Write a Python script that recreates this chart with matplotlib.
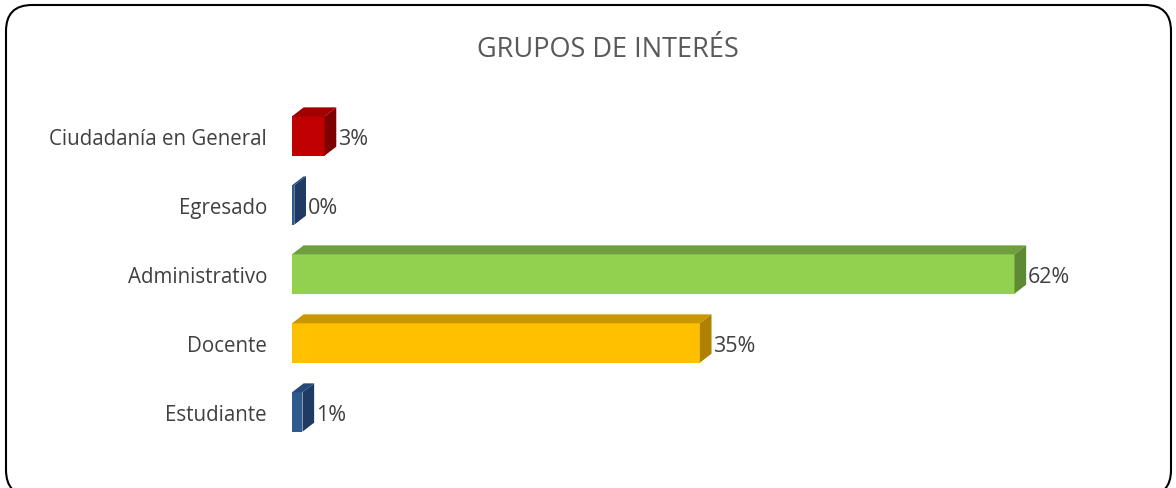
import matplotlib.pyplot as plt
from matplotlib.patches import Polygon, FancyBboxPatch

# 数据
categorias = ['Estudiante', 'Docente', 'Administrativo', 'Egresado', 'Ciudadanía en General']
valores = [0.9, 35, 62, 0.2, 2.8]
etiquetas = ['1%', '35%', '62%', '0%', '3%']

# 颜色: 正面, 顶面, 侧面
frente = ['#2F5A8E', '#FFC000', '#92D050', '#2F5A8E', '#C00000']
arriba = ['#27497A', '#C99700', '#6E9E3E', '#27497A', '#A00000']
lado = ['#1F3A63', '#AE8200', '#5E8A33', '#1F3A63', '#7F0000']

fig = plt.figure(figsize=(11.76, 4.89), dpi=100)
ax = fig.add_axes([292 / 1176, 0.0849, 874 / 1176, 0.7055])

h = 0.57   # 条高
dx = 1.0   # 深度 x
dy = 0.13  # 深度 y

for i, v in enumerate(valores):
    ax.barh(i, v, height=h, color=frente[i], edgecolor='none', zorder=2)
    top = i + h / 2
    bot = i - h / 2
    ax.add_patch(Polygon([(0, top), (v, top), (v + dx, top + dy), (dx, top + dy)],
                         closed=True, color=arriba[i], lw=0, zorder=3))
    ax.add_patch(Polygon([(v, bot), (v + dx, bot + dy), (v + dx, top + dy), (v, top)],
                         closed=True, color=lado[i], lw=0, zorder=3))
    ax.text(v + dx + 0.15, i - 0.04, etiquetas[i], va='center', ha='left',
            fontsize=15.5, color='#404040', family='Open Sans')

ax.set_xlim(0, 75)
ax.set_ylim(-0.5, 4.5)
ax.set_yticks(range(len(categorias)))
ax.set_yticklabels(categorias, fontsize=14.8, color='#404040', family='Open Sans')
ax.tick_params(axis='y', length=0, pad=18)
ax.set_xticks([])
for s in ax.spines.values():
    s.set_visible(False)

fig.text(608 / 1176, 1 - 50 / 489, 'GRUPOS DE INTERÉS', ha='center', va='center',
         fontsize=19.5, color='#595959', family='Open Sans')

# 圆角边框
borde = FancyBboxPatch((6, -8), 1165, 489 - 6 + 8, boxstyle='round,pad=0,rounding_size=26',
                       transform=None, fill=False, edgecolor='black', lw=1.5)
fig.add_artist(borde)

fig.savefig('out.png', dpi=100)
